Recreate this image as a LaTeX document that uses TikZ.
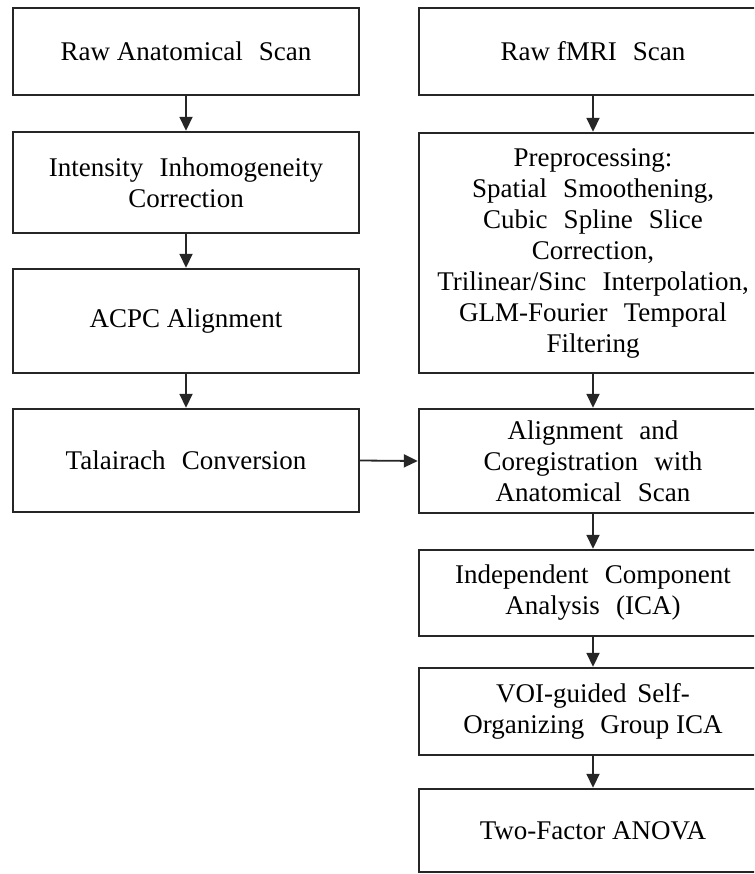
\documentclass[tikz,border=0pt]{standalone}
\usepackage{fontspec}
\setmainfont{Liberation Serif}
\usetikzlibrary{arrows.meta}
\newcommand{\wsp}{\hspace{0.6em}}
\definecolor{linecol}{HTML}{262626}
\begin{document}
\begin{tikzpicture}[x=1pt,y=-1pt,
  box/.style={draw=linecol, line width=2.4pt, fill=white, inner sep=0pt, align=center,
    font=\fontsize{27}{31}\selectfont, text=black},
  lbox/.style={box, minimum width=346pt},
  rbox/.style={box, minimum width=348pt},
  arr/.style={draw=linecol, line width=1.8pt, -{Triangle[length=14pt,width=13pt]}}]
\useasboundingbox (0,0) rectangle (754,874);
\fill[white] (0,0) rectangle (754,874);
\clip (0,0) rectangle (754,874);
% left column
\node[lbox, minimum height=87pt] (l1) at (186,51.5) {Raw Anatomical\wsp Scan};
\node[lbox, minimum height=101pt] (l2) at (186,182.5) {Intensity\wsp Inhomogeneity\\Correction};
\node[lbox, minimum height=104pt] (l3) at (186,321) {ACPC Alignment};
\node[lbox, minimum height=103pt] (l4) at (186,460.5) {Talairach\wsp Conversion};
% right column
\node[rbox, minimum height=87pt] (r1) at (593,51.5) {Raw fMRI\wsp Scan};
\node[rbox, minimum height=240pt] (r2) at (593,253) {Preprocessing:\\Spatial\wsp Smoothening,\\Cubic\wsp Spline\wsp Slice\\Correction,\\Trilinear/Sinc\wsp Interpolation,\\GLM-Fourier\wsp Temporal\\Filtering};
\node[rbox, minimum height=104pt] (r3) at (593,461) {Alignment\wsp and\\Coregistration\wsp with\\Anatomical\wsp Scan};
\node[rbox, minimum height=86pt] (r4) at (593,593) {Independent\wsp Component\\Analysis\wsp (ICA)};
\node[rbox, minimum height=87pt] (r5) at (593,711.5) {VOI-guided\hspace{0.4em}Self-\\Organizing\wsp Group ICA};
\node[rbox, minimum height=83pt] (r6) at (593,830.5) {Two-Factor ANOVA};
% connectors
\draw[arr] (l1) -- (l2);
\draw[arr] (l2) -- (l3);
\draw[arr] (l3) -- (l4);
\draw[arr] (r1) -- (r2);
\draw[arr] (r2) -- (r3);
\draw[arr] (r3) -- (r4);
\draw[arr] (r4) -- (r5);
\draw[arr] (r5) -- (r6);
\draw[arr] (l4.east) -- (r3.west);
\end{tikzpicture}
\end{document}
